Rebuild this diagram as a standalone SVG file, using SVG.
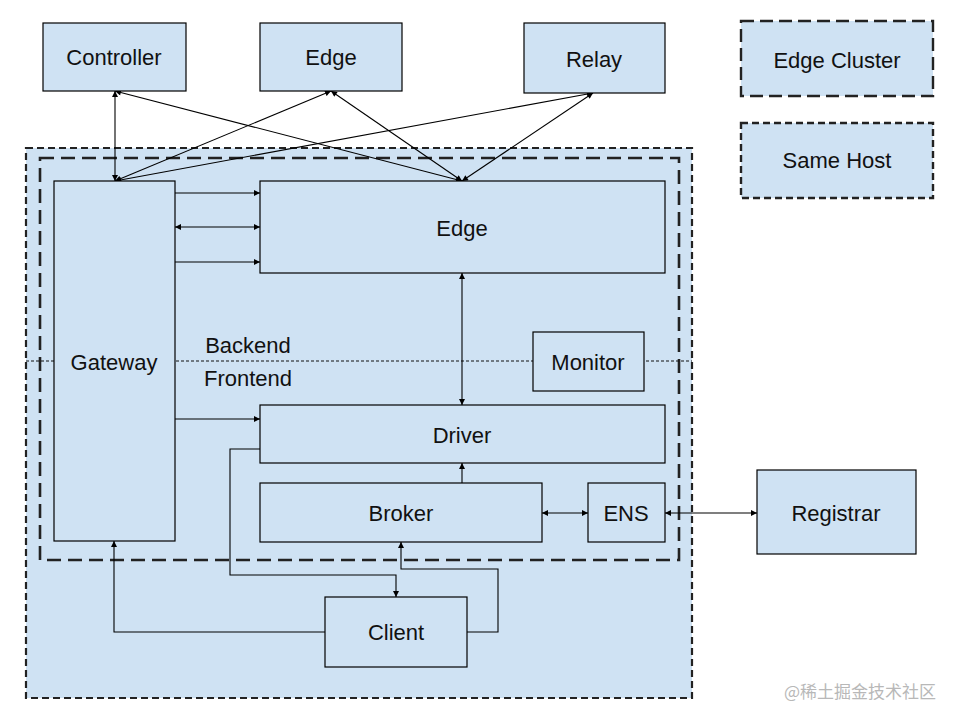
<svg xmlns="http://www.w3.org/2000/svg" width="960" height="720" viewBox="0 0 960 720">
<defs>
<style>
.n{fill:#cfe2f3;stroke:#000;stroke-width:1.2}
.lg{fill:#cfe2f3;stroke:#222;stroke-width:2.4}
.t{font-family:"Liberation Sans",Arial,sans-serif;font-size:22px;fill:#111;text-anchor:middle;dominant-baseline:central}
.c{fill:none;stroke:#000;stroke-width:1.1}
.host{fill:#cfe2f3;stroke:#222;stroke-width:2.2;stroke-dasharray:7,4}
.cluster{fill:none;stroke:#222;stroke-width:2.6;stroke-dasharray:14,7}
</style>
<marker id="a" viewBox="0 0 10 10" refX="10" refY="5" markerWidth="7" markerHeight="6" markerUnits="userSpaceOnUse" orient="auto-start-reverse">
<path d="M0,0 L10,5 L0,10 z" fill="#000"/>
</marker>
</defs>
<rect width="960" height="720" fill="#fff"/>

<g id="same-host-region"><rect class="host" x="26" y="148" width="666" height="550"/></g>
<g id="edge-cluster-region"><rect class="cluster" x="40" y="158" width="639" height="402"/></g>
<g id="divider">
<line x1="26" y1="361" x2="692" y2="361" stroke="#111" stroke-width="1" stroke-dasharray="3,2"/>
<text class="t" x="248" y="345">Backend</text>
<text class="t" x="248" y="378">Frontend</text>
</g>

<g id="connectors">
<line class="c" x1="115" y1="91" x2="115" y2="181" marker-start="url(#a)" marker-end="url(#a)"/>
<line class="c" x1="115" y1="91" x2="462" y2="181" marker-start="url(#a)" marker-end="url(#a)"/>
<line class="c" x1="331" y1="91" x2="115" y2="181" marker-start="url(#a)" marker-end="url(#a)"/>
<line class="c" x1="331" y1="91" x2="462" y2="181" marker-start="url(#a)" marker-end="url(#a)"/>
<line class="c" x1="593" y1="93" x2="115" y2="181" marker-start="url(#a)" marker-end="url(#a)"/>
<line class="c" x1="593" y1="93" x2="462" y2="181" marker-start="url(#a)" marker-end="url(#a)"/>
<line class="c" x1="175" y1="193" x2="260" y2="193" marker-end="url(#a)"/>
<line class="c" x1="175" y1="227" x2="260" y2="227" marker-start="url(#a)" marker-end="url(#a)"/>
<line class="c" x1="175" y1="262" x2="260" y2="262" marker-end="url(#a)"/>
<line class="c" x1="175" y1="419" x2="260" y2="419" marker-end="url(#a)"/>
<line class="c" x1="462" y1="273" x2="462" y2="405" marker-start="url(#a)" marker-end="url(#a)"/>
<line class="c" x1="462" y1="483" x2="462" y2="463" marker-end="url(#a)"/>
<line class="c" x1="542" y1="513" x2="588" y2="513" marker-start="url(#a)" marker-end="url(#a)"/>
<line class="c" x1="665" y1="513" x2="757" y2="513" marker-start="url(#a)" marker-end="url(#a)"/>
<polyline class="c" points="260,449 230,449 230,575 396,575 396,597" marker-end="url(#a)"/>
<polyline class="c" points="467,632 498,632 498,569 401,569 401,542" marker-end="url(#a)"/>
<polyline class="c" points="325,632 114,632 114,541" marker-end="url(#a)"/>
</g>

<g id="controller"><rect class="n" x="43" y="23" width="143" height="68"/><text class="t" x="114" y="57">Controller</text></g>
<g id="edge-top"><rect class="n" x="260" y="23" width="142" height="68"/><text class="t" x="331" y="57">Edge</text></g>
<g id="relay"><rect class="n" x="524" y="23" width="141" height="70"/><text class="t" x="594" y="59">Relay</text></g>
<g id="legend-edge-cluster"><rect class="lg" x="741" y="21" width="192" height="75" style="stroke-dasharray:13,6"/><text class="t" x="837" y="60">Edge Cluster</text></g>
<g id="legend-same-host"><rect class="lg" x="741" y="123" width="192" height="75" style="stroke-dasharray:7,4"/><text class="t" x="837" y="160">Same Host</text></g>

<g id="gateway"><rect class="n" x="54" y="181" width="121" height="360"/><text class="t" x="114" y="362">Gateway</text></g>
<g id="edge"><rect class="n" x="260" y="181" width="405" height="92"/><text class="t" x="462" y="228">Edge</text></g>
<g id="monitor"><rect class="n" x="533" y="332" width="111" height="59"/><text class="t" x="588" y="362">Monitor</text></g>
<g id="driver"><rect class="n" x="260" y="405" width="405" height="58"/><text class="t" x="462" y="435">Driver</text></g>
<g id="broker"><rect class="n" x="260" y="483" width="282" height="59"/><text class="t" x="401" y="513">Broker</text></g>
<g id="ens"><rect class="n" x="588" y="483" width="77" height="59"/><text class="t" x="626" y="513">ENS</text></g>
<g id="registrar"><rect class="n" x="757" y="470" width="159" height="84"/><text class="t" x="836" y="513">Registrar</text></g>
<g id="client"><rect class="n" x="325" y="597" width="142" height="70"/><text class="t" x="396" y="632">Client</text></g>

<text x="860" y="690" font-family="'Noto Sans CJK SC',sans-serif" font-size="17" fill="#b8b8b8" text-anchor="middle" dominant-baseline="central">@稀土掘金技术社区</text>
</svg>
